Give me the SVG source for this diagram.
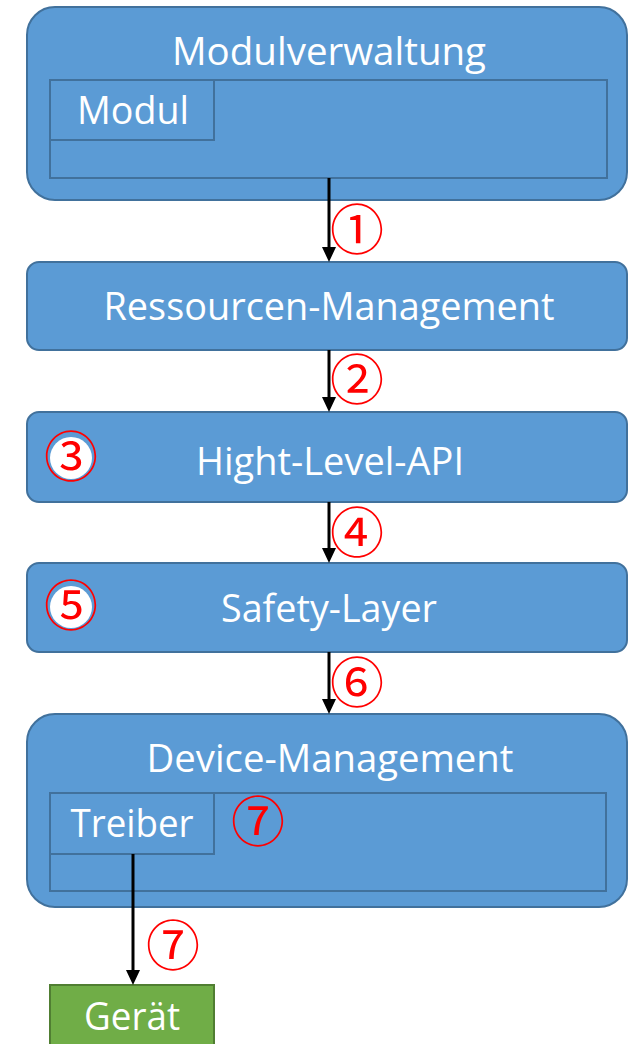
<svg xmlns="http://www.w3.org/2000/svg" width="628" height="1044" viewBox="0 0 628 1044">
<style>
.box{fill:#5B9BD5;stroke:#41719C;stroke-width:2}
.inner{fill:none;stroke:#41719C;stroke-width:2}
.green{fill:#70AD47;stroke:#507E32;stroke-width:2}
.lbl{font-family:"Open Sans","Noto Sans",sans-serif;font-size:38px;fill:#FFFFFF;text-anchor:middle}
.num{font-family:"Noto Sans CJK JP","DejaVu Sans",sans-serif;font-size:54px;fill:#FF0000;text-anchor:middle}
.conn{stroke:#000;stroke-width:3;fill:none;marker-end:url(#arr)}
</style>
<defs>
<marker id="arr" markerUnits="userSpaceOnUse" markerWidth="15" markerHeight="14" viewBox="0 0 15 14" refX="0" refY="7" orient="auto">
<path d="M0,0 L15,7 L0,14 Z" fill="#000"/>
</marker>
</defs>
<g id="modulverwaltung">
<rect class="box" x="27" y="7" width="600" height="193" rx="28"/>
<text class="lbl" x="329" y="65" textLength="314" lengthAdjust="spacingAndGlyphs">Modulverwaltung</text>
<rect class="inner" x="50" y="80" width="557" height="98"/>
<rect class="inner" x="50" y="80" width="164" height="60"/>
<text class="lbl" x="133" y="124" textLength="112" lengthAdjust="spacingAndGlyphs">Modul</text>
</g>
<g id="ressourcen">
<rect class="box" x="27" y="262" width="600" height="88" rx="12"/>
<text class="lbl" x="329" y="320" textLength="451" lengthAdjust="spacingAndGlyphs">Ressourcen-Management</text>
</g>
<g id="highlevel">
<rect class="box" x="27" y="412" width="600" height="90" rx="12"/>
<text class="lbl" x="330" y="475" textLength="268" lengthAdjust="spacingAndGlyphs">Hight-Level-API</text>
<circle cx="71" cy="458" r="21" fill="#FFFFFF"/>
<text class="num" x="71" y="477">③</text>
</g>
<g id="safety">
<rect class="box" x="27" y="563" width="600" height="89" rx="12"/>
<text class="lbl" x="329" y="622" textLength="216" lengthAdjust="spacingAndGlyphs">Safety-Layer</text>
<circle cx="71" cy="607" r="21" fill="#FFFFFF"/>
<text class="num" x="71" y="626">⑤</text>
</g>
<g id="device">
<rect class="box" x="27" y="714" width="600" height="193" rx="28"/>
<text class="lbl" x="330" y="772" textLength="367" lengthAdjust="spacingAndGlyphs">Device-Management</text>
<rect class="inner" x="50" y="793" width="556" height="98"/>
<rect class="inner" x="50" y="793" width="164" height="61"/>
<text class="lbl" x="132" y="837" textLength="123" lengthAdjust="spacingAndGlyphs">Treiber</text>
<text class="num" x="258" y="842">⑦</text>
</g>
<g id="geraet">
<rect class="green" x="50" y="985" width="164" height="70"/>
<text class="lbl" x="132" y="1030" textLength="96" lengthAdjust="spacingAndGlyphs">Gerät</text>
</g>
<g id="connectors">
<line class="conn" x1="329" y1="178" x2="329" y2="247"/>
<line class="conn" x1="329" y1="350" x2="329" y2="397"/>
<line class="conn" x1="329" y1="502" x2="329" y2="548"/>
<line class="conn" x1="329" y1="652" x2="329" y2="699"/>
<line class="conn" x1="133" y1="854" x2="133" y2="970"/>
<text class="num" x="357" y="250">①</text>
<text class="num" x="357" y="400">②</text>
<text class="num" x="357" y="553">④</text>
<text class="num" x="357" y="703">⑥</text>
<text class="num" x="173" y="966">⑦</text>
</g>
</svg>
